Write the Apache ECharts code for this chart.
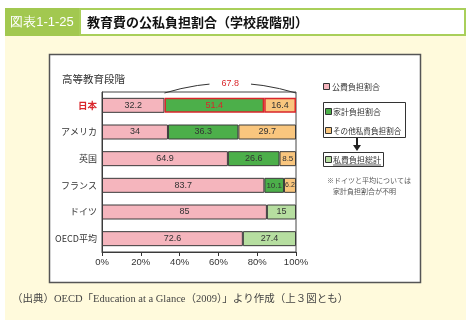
<!DOCTYPE html>
<html><head><meta charset="utf-8">
<script src="https://cdn.jsdelivr.net/npm/echarts@6/dist/echarts.min.js"></script>
<style>html,body{margin:0;padding:0;background:#fff}#c{width:472px;height:330px}</style>
</head><body><div id="c"></div>
<script>
const categories = ['日本','アメリカ','英国','フランス','ドイツ','OECD平均'];
const publicShare = [32.2, 34, 64.9, 83.7, 85, 72.6];
const household = [51.4, 36.3, 26.6, 10.1, null, null];
const otherPrivate = [16.4, 29.7, 8.5, 6.2, null, null];
const privateTotal = [null, null, null, null, 15, 27.4];
const japanPrivateTotal = 67.8;
const xTicks = [0, 20, 40, 60, 80, 100];

const RED = '#d9262b';
const NUMFONT = '"Liberation Sans Narrow","Liberation Sans",sans-serif';
const JP = '"Noto Sans CJK JP",sans-serif';

function mk(name, data, color, hlRed) {
  return {
    name, type: 'bar', stack: 'a', barWidth: 15,
    data: data.map((v, i) => {
      if (v == null) return null;
      const d = { value: v };
      if (v < 7) d.label = { fontSize: 7, padding: 0 };
      else if (v < 12) d.label = { fontSize: 8, padding: 0 };
      if (hlRed && i === 0) {
        d.itemStyle = { borderColor: RED, borderWidth: 1.5 };
        if (name === '家計負担割合') d.label = { color: RED };
      }
      return d;
    }),
    itemStyle: { color, borderColor: '#3a3a3a', borderWidth: 1 },
    label: { show: true, position: 'inside', fontSize: 9, color: '#333', fontFamily: NUMFONT },
    z: 5
  };
}

const chart = echarts.init(document.getElementById('c'));
const option = {
  animation: false,
  backgroundColor: '#fff',
  grid: { left: 102, right: 176, top: 92, bottom: 78, show: true, borderColor: '#444', borderWidth: 1, backgroundColor: 'transparent', z: 3 },
  xAxis: {
    type: 'value', min: xTicks[0], max: xTicks[xTicks.length - 1], interval: 20,
    axisLine: { show: true, lineStyle: { color: '#333' } },
    axisTick: { show: true, length: 4, lineStyle: { color: '#333' } },
    splitLine: { show: false },
    axisLabel: { formatter: '{value}%', fontSize: 9.5, color: '#333', fontFamily: NUMFONT, margin: 5 }
  },
  yAxis: {
    type: 'category', data: categories, inverse: true,
    axisLine: { show: true, lineStyle: { color: '#333' } },
    axisTick: { show: false },
    axisLabel: {
      fontSize: 9, color: '#333', margin: 5, fontFamily: JP,
      formatter: (v) => v === '日本' ? '{r|' + v + '}' : v,
      rich: { r: { color: RED, fontSize: 9.5, fontWeight: 'bold', fontFamily: JP } }
    }
  },
  series: [
    mk('公費負担割合', publicShare, '#f5b5bd', false),
    mk('家計負担割合', household, '#4caf4a', true),
    mk('その他私費負担割合', otherPrivate, '#f9c67e', true),
    mk('私費負担総計', privateTotal, '#b6dea0', false)
  ],
  graphic: [
    { type: 'rect', z: -20, shape: { x: 5, y: 8, width: 461, height: 312 }, style: { fill: '#fffadc' } },
    { type: 'rect', z: -15, shape: { x: 5, y: 8, width: 74, height: 28 }, style: { fill: '#a2c850' } },
    { type: 'text', z: 50, x: 42, y: 22, style: { text: '図表1-1-25', fill: '#fff', fontSize: 13, fontFamily: NUMFONT, align: 'center', verticalAlign: 'middle' } },
    { type: 'rect', z: -15, shape: { x: 80, y: 9, width: 385, height: 26 }, style: { fill: '#fff', stroke: '#a9cf5a', lineWidth: 2 } },
    { type: 'text', z: 50, x: 87, y: 22, style: { text: '教育費の公私負担割合（学校段階別）', fill: '#111', fontSize: 13, fontWeight: 'bold', fontFamily: JP, verticalAlign: 'middle' } },
    { type: 'rect', z: -10, shape: { x: 49.5, y: 54.5, width: 371, height: 228 }, style: { fill: '#fff', stroke: '#555', lineWidth: 1.5 } },
    { type: 'text', z: 50, x: 62, y: 79, style: { text: '高等教育段階', fill: '#333', fontSize: 10.5, fontFamily: JP, verticalAlign: 'middle' } },
    { type: 'text', z: 50, x: 12, y: 299, style: { text: '（出典）OECD「Education at a Glance（2009）」より作成（上３図とも）', fill: '#444', fontSize: 10.5, fontFamily: '"Liberation Serif","Noto Sans CJK JP",serif', verticalAlign: 'middle' } },
    // legend
    { type: 'rect', z: 50, shape: { x: 323.5, y: 83.5, width: 6, height: 6 }, style: { fill: '#f5b5bd', stroke: '#333', lineWidth: 1 } },
    { type: 'text', z: 50, x: 332, y: 87, style: { text: '公費負担割合', fill: '#333', fontSize: 8, fontFamily: JP, verticalAlign: 'middle' } },
    { type: 'rect', z: 50, shape: { x: 323.5, y: 102.5, width: 82, height: 35 }, style: { fill: 'none', stroke: '#333', lineWidth: 1 } },
    { type: 'rect', z: 50, shape: { x: 325.5, y: 108.5, width: 6, height: 6 }, style: { fill: '#4caf4a', stroke: '#333', lineWidth: 1 } },
    { type: 'text', z: 50, x: 333, y: 112, style: { text: '家計負担割合', fill: '#333', fontSize: 8, fontFamily: JP, verticalAlign: 'middle' } },
    { type: 'rect', z: 50, shape: { x: 325.5, y: 127.5, width: 6, height: 6 }, style: { fill: '#f9c67e', stroke: '#333', lineWidth: 1 } },
    { type: 'text', z: 50, x: 333, y: 131, style: { text: 'その他私費負担割合', fill: '#333', fontSize: 7.6, fontFamily: JP, verticalAlign: 'middle' } },
    { type: 'line', z: 50, shape: { x1: 357, y1: 138, x2: 357, y2: 146 }, style: { stroke: '#222', lineWidth: 2 } },
    { type: 'polygon', z: 50, shape: { points: [[353, 145], [361, 145], [357, 151]] }, style: { fill: '#222' } },
    { type: 'rect', z: 50, shape: { x: 323.5, y: 152.5, width: 60, height: 14 }, style: { fill: 'none', stroke: '#333', lineWidth: 1 } },
    { type: 'rect', z: 50, shape: { x: 325.5, y: 156.5, width: 6, height: 6 }, style: { fill: '#b6dea0', stroke: '#333', lineWidth: 1 } },
    { type: 'text', z: 50, x: 333, y: 160, style: { text: '私費負担総計', fill: '#333', fontSize: 8, fontFamily: JP, verticalAlign: 'middle' } },
    { type: 'line', z: 50, shape: { x1: 333, y1: 165, x2: 381, y2: 165 }, style: { stroke: '#333', lineWidth: 0.8 } },
    { type: 'text', z: 50, x: 327, y: 180, style: { text: '※ドイツと平均については', fill: '#555', fontSize: 7, fontFamily: JP, verticalAlign: 'middle' } },
    { type: 'text', z: 50, x: 333, y: 191, style: { text: '家計負担割合が不明', fill: '#555', fontSize: 7, fontFamily: JP, verticalAlign: 'middle' } }
  ]
};
chart.setOption(option);

// arc over Japan's private share (household + other), positioned via the axis scale
const x1 = chart.convertToPixel({ xAxisIndex: 0 }, publicShare[0]);
const x2 = chart.convertToPixel({ xAxisIndex: 0 }, publicShare[0] + household[0] + otherPrivate[0]);
const yTop = 93;
const xm = (x1 + x2) / 2;
chart.setOption({
  graphic: option.graphic.concat([
    { type: 'bezierCurve', z: 40, shape: { x1: x1, y1: yTop, x2: x2, y2: yTop, cpx1: xm, cpy1: yTop - 20 }, style: { stroke: '#333', lineWidth: 1, fill: 'none' } },
    { type: 'text', z: 45, x: xm, y: 84, style: { text: String(japanPrivateTotal), fill: RED, fontSize: 9, fontFamily: NUMFONT, align: 'center', verticalAlign: 'middle', backgroundColor: '#fff', padding: [1, 12] } }
  ])
});
</script></body></html>
